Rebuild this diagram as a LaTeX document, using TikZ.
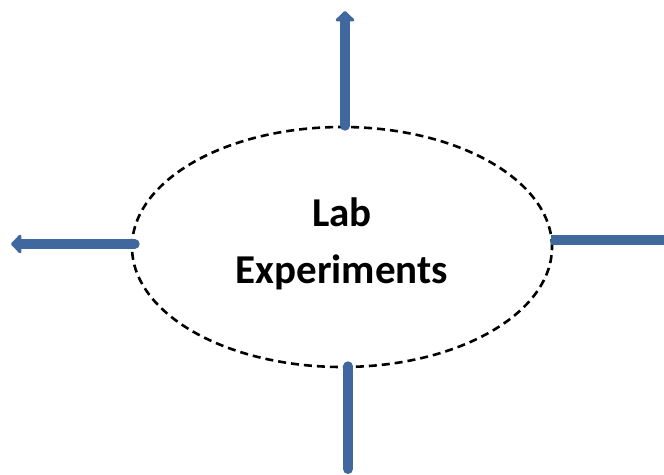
\documentclass[tikz,border=0pt]{standalone}
\usepackage{fontspec}
\setmainfont{Carlito}
\usetikzlibrary{positioning, shapes.geometric, arrows.meta}

\definecolor{armblue}{RGB}{64,104,158}

\tikzset{
    arm/.style={draw=armblue, line width=10pt, line cap=round},
    armtip/.style={arm, -{Triangle[length=11pt, width=22pt, round]}}
}

\begin{document}
\begin{tikzpicture}[x=1pt, y=1pt]

    \useasboundingbox (0,0) rectangle (664,-474);

    \node[draw, ellipse, dashed, dash pattern=on 8pt off 5pt, line width=2.6pt,
          minimum width=420pt, minimum height=240pt] (lab) at (342,-247) {};
    \node[font=\bfseries\fontsize{41}{57}\selectfont, align=center] (title) at (342,-244) {Lab\\Experiments};

    \coordinate (topend) at (345,-11);
    \coordinate (leftend) at (11,-244);
    \coordinate (rightend) at (664,-240);
    \coordinate (bottomend) at (348,-469);

    % arms
    \draw[armtip] (lab.north -| topend) -- (topend);
    \draw[armtip] (lab.west |- leftend) ++(4,0) -- (leftend);
    \draw[arm, line cap=butt] (lab.east |- rightend) ++(-2,0) -- (rightend);
    \draw[arm] (lab.south -| bottomend) ++(0,2) -- (bottomend);

\end{tikzpicture}
\end{document}
